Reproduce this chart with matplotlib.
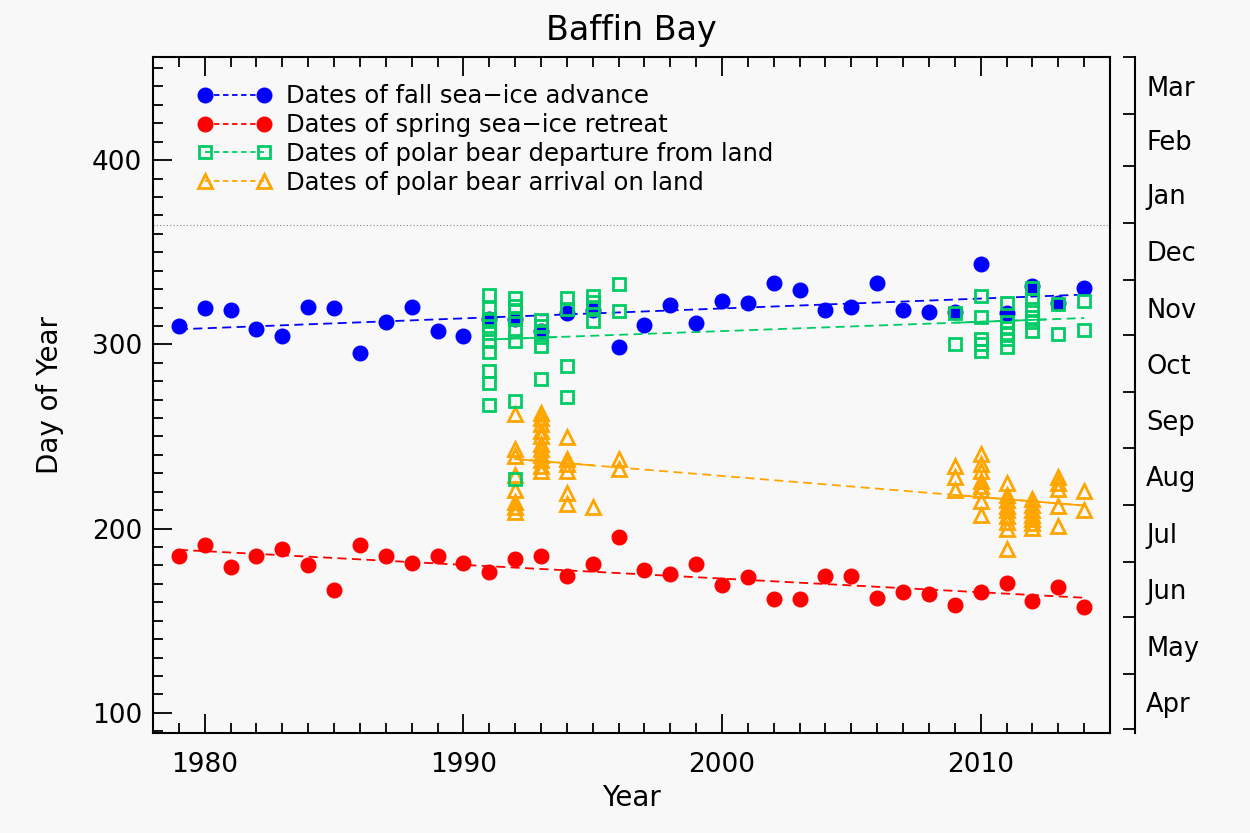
import numpy as np
import matplotlib
matplotlib.use('Agg')
import matplotlib.pyplot as plt
from matplotlib.lines import Line2D
from matplotlib.ticker import MultipleLocator, FixedLocator, NullFormatter, FixedFormatter

# ---------------- data ----------------
years = list(range(1979, 2015))
fall_advance = [310, 319.5, 318.5, 308.5, 304.5, 320.5, 319.5, 295.5, 312, 320.5,
                307.5, 304.5, 314, 314, 307, 317, 318.5, 298.5, 310.5, 321.5,
                311.5, 323.5, 322.5, 333.5, 329.5, 318.5, 320.5, 333.5, 318.5, 317.5,
                317.5, 343.5, 317, 331.5, 322.5, 330.5]
spring_retreat = [185, 191, 179, 185, 189, 180, 166.5, 191, 185, 181.5,
                  185, 181.5, 176.5, 183.5, 185, 174, 180.5, 195.5, 177.5, 175.5,
                  180.5, 169.5, 173.5, 161.5, 161.5, 174.5, 174.5, 162.5, 165.5, 164.5,
                  158.5, 165.5, 170.5, 160.5, 168.5, 157.5]

departure_years = [1991, 1992, 1993, 1994, 1995, 1996,
                   2009, 2010, 2011, 2012, 2013, 2014]
departure_days = [
    [327, 320, 314, 310, 306, 302, 296, 285.5, 279, 267],
    [325, 321, 318, 314, 308, 302, 269, 227],
    [313, 310, 307, 304, 299, 281],
    [325, 319, 288, 271.5],
    [326, 323, 320.5, 312.5],
    [332.5, 318],
    [317, 300],
    [326.5, 315, 303, 300, 296.5],
    [322.5, 312, 309, 306, 303, 298.5],
    [330.5, 324, 319, 315, 312, 307],
    [322, 305.5],
    [323.5, 308],
]
arrival_years = [1992, 1993, 1994, 1995, 1996,
                 2009, 2010, 2011, 2012, 2013, 2014]
arrival_days = [
    [262, 243, 239.5, 229, 221, 214.5, 211.5, 209],
    [263, 260, 257, 253, 250, 246, 243, 240, 237, 234, 231],
    [249.5, 238, 235, 231.5, 219.5, 213.5],
    [211.5],
    [238, 232.5],
    [234, 228, 221],
    [240.5, 235, 231.5, 226, 223, 221, 215, 207.5],
    [225, 218, 215.5, 212.5, 210, 207, 203.5, 200, 189],
    [216, 213, 210, 207.5, 205, 203, 200.5],
    [228, 225, 221.5, 212.5, 201.5],
    [220.5, 210],
]

month_names = ['Apr', 'May', 'Jun', 'Jul', 'Aug', 'Sep', 'Oct', 'Nov', 'Dec', 'Jan', 'Feb', 'Mar']
month_bounds = [91, 121, 152, 182, 213, 244, 274, 305, 335, 366, 397, 425, 456]

labels = ['Dates of fall sea\u2212ice advance',
          'Dates of spring sea\u2212ice retreat',
          'Dates of polar bear departure from land',
          'Dates of polar bear arrival on land']

# ---------------- styles ----------------
c_blue = '#0000ff'
c_red = '#ff0000'
c_green = '#00cc66'
c_orange = '#ffa500'
bg = '#f8f8f8'

plt.rcParams['font.family'] = ['DejaVu Sans']

fig = plt.figure(figsize=(12.5, 8.33), dpi=100, facecolor=bg)
ax = fig.add_axes([0.1224, 0.12, 0.888 - 0.1224, 0.9316 - 0.12])
ax.set_facecolor(bg)

xlim = (1978, 2015)
ylim = (89, 456)
ax.set_xlim(*xlim)
ax.set_ylim(*ylim)

def flat(yrs, groups):
    xs, ys = [], []
    for y, g in zip(yrs, groups):
        xs += [y] * len(g)
        ys += list(g)
    return np.array(xs, float), np.array(ys, float)

dx, dy = flat(departure_years, departure_days)
axx, ayy = flat(arrival_years, arrival_days)
yrs = np.array(years, float)

def trend(x, y, color, spans=None):
    p = np.polyfit(x, y, 1)
    xx = np.array([x.min(), x.max()])
    ax.plot(xx, np.polyval(p, xx), ls=(0, (5, 3)), color=color, lw=1.3, zorder=2)
    if spans:
        for a, b in spans:
            xs = np.array([a, b])
            ax.plot(xs, np.polyval(p, xs), ls='-', color=color, lw=1.3, zorder=2)

# horizontal dotted line at day 365
ax.axhline(365, color='#888888', ls=(0, (1, 2)), lw=0.8, zorder=1)

# points
ax.plot(yrs, fall_advance, 'o', color=c_blue, ms=10.5, mec=c_blue, zorder=3)
ax.plot(yrs, spring_retreat, 'o', color=c_red, ms=10.5, mec=c_red, zorder=3)
ax.plot(axx, ayy, '^', mfc='none', mec=c_orange, ms=9.5, mew=2, ls='none', zorder=4)
ax.plot(dx, dy, 's', mfc='none', mec=c_green, ms=9, mew=2, ls='none', zorder=4)

trend(yrs, np.array(fall_advance), c_blue)
trend(yrs, np.array(spring_retreat), c_red)
trend(dx, dy, c_green, spans=[(1991, 1993.6), (2009, 2012.5)])
trend(axx, ayy, c_orange, spans=[(1992, 1995), (2009, 2014)])

# ticks
ax.xaxis.set_major_locator(MultipleLocator(10))
ax.xaxis.set_minor_locator(MultipleLocator(1))
ax.yaxis.set_major_locator(MultipleLocator(100))
ax.yaxis.set_minor_locator(MultipleLocator(10))
ax.tick_params(which='both', direction='in', top=True, right=True, width=1.3)
ax.tick_params(which='major', length=14)
ax.tick_params(which='minor', length=7)
ax.tick_params(axis='y', labelsize=19, pad=8)
ax.tick_params(axis='x', labelsize=19, pad=14)
for s in ax.spines.values():
    s.set_linewidth(1.5)

ax.set_xlabel('Year', fontsize=20, labelpad=4)
ax.set_ylabel('Day of Year', fontsize=20, labelpad=20)
ax.set_title('Baffin Bay', fontsize=24, pad=12)

# month axis on right
ax2 = ax.twinx()
ax2.set_ylim(*ylim)
ax2.spines['right'].set_position(('outward', 18))
ax2.spines['right'].set_linewidth(1.5)
for s in ['left', 'top', 'bottom']:
    ax2.spines[s].set_visible(False)
mids = [(a + b) / 2 for a, b in zip(month_bounds[:-1], month_bounds[1:])]
ax2.yaxis.set_major_locator(FixedLocator(month_bounds))
ax2.yaxis.set_major_formatter(NullFormatter())
ax2.yaxis.set_minor_locator(FixedLocator(mids))
ax2.yaxis.set_minor_formatter(FixedFormatter(month_names))
ax2.tick_params(axis='y', which='major', direction='in', length=9, width=1.3)
ax2.tick_params(axis='y', which='minor', length=0, pad=8, labelsize=18.5)

# legend
handles = [
    Line2D([], [], color=c_blue, ls=(0, (3, 2)), marker='o', ms=10.5, lw=1.3),
    Line2D([], [], color=c_red, ls=(0, (3, 2)), marker='o', ms=10.5, lw=1.3),
    Line2D([], [], color=c_green, ls=(0, (3, 2)), marker='s', mfc='none', ms=9, mew=2, lw=1.3),
    Line2D([], [], color=c_orange, ls=(0, (3, 2)), marker='^', mfc='none', ms=9.5, mew=2, lw=1.3),
]
ax.legend(handles, labels, loc='upper left', bbox_to_anchor=(0.037, 0.974), frameon=False,
          fontsize=17.5, numpoints=2, handlelength=3.0, handletextpad=0.6,
          labelspacing=0.2, borderaxespad=0)

fig.savefig('out.png', dpi=100, facecolor=bg)
